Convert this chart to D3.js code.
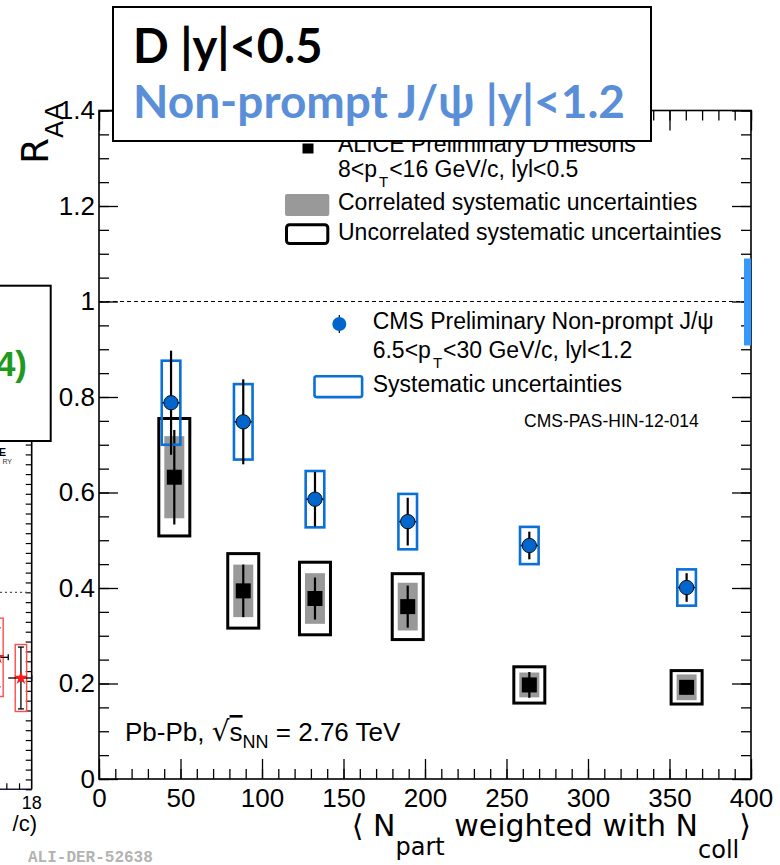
<!DOCTYPE html>
<html>
<head>
<meta charset="utf-8">
<script src="https://cdn.jsdelivr.net/npm/d3@7"></script>
<style>
  body { margin: 0; background: #fff; }
  svg { display: block; }
</style>
</head>
<body>
<svg id="chart" width="780" height="865"></svg>
<script>
// ---- ALICE D mesons, 8<pT<16 GeV/c, |y|<0.5 ----
const aliceNpart  = [46.2, 88.5, 132.5, 189.4, 264.0, 360.5];
const aliceRaa    = [0.632, 0.394, 0.378, 0.361, 0.197, 0.192];
const aliceStat   = [0.099, 0.055, 0.044, 0.044, 0.027, 0.015];
const aliceCorr   = [0.086, 0.055, 0.053, 0.050, 0.026, 0.027];
const aliceUncorr = [0.123, 0.078, 0.076, 0.069, 0.038, 0.035];

// ---- CMS non-prompt J/psi, 6.5<pT<30 GeV/c, |y|<1.2 ----
const cmsNpart = [44.2, 88.5, 132.5, 189.4, 264.0, 360.5];
const cmsRaa   = [0.788, 0.748, 0.586, 0.539, 0.489, 0.401];
const cmsStat  = [0.109, 0.089, 0.057, 0.050, 0.029, 0.030];
const cmsSyst  = [0.088, 0.079, 0.059, 0.058, 0.039, 0.038];

// ---- axis ticks ----
const xTicks = [0, 50, 100, 150, 200, 250, 300, 350, 400];
const yTicks = [0, 0.2, 0.4, 0.6, 0.8, 1, 1.2, 1.4];

// ---- neighbouring RAA vs pT panel, cut off at the left edge ----
const sidePt     = [15.3, 17.15];
const sidePtLo   = [14.0, 16.15];
const sidePtHi   = [16.15, 18.0];
const sideRaa    = [0.670, 0.565];
const sideStat   = [0.150, 0.157];
const sideSyst   = [0.199, 0.170];

const FONT = "'Liberation Sans', Arial, Helvetica, sans-serif";
const TITLE_FONT = "'DejaVu Sans', 'Liberation Sans', sans-serif";
const BOX_FONT = "Lato, 'Open Sans', sans-serif";

const svg = d3.select("#chart");

const frame = { left: 99, right: 751, top: 110.5, bottom: 779 };
const x = d3.scaleLinear().domain([0, 400]).range([frame.left, frame.right]);
const y = d3.scaleLinear().domain([0, 1.4]).range([frame.bottom, frame.top]);

// ================= side panel fragment =================
const side = svg.append("g");
const sx = d3.scaleLinear().domain([15.5, 18]).range([0, 31.7]);
const sy = d3.scaleLinear().domain([0, 1]).range([789.3, 592.3]);

side.append("rect")
  .attr("x", -6).attr("y", 285.7).attr("width", 56.7).attr("height", 155.3)
  .attr("fill", "#fff").attr("stroke", "#000").attr("stroke-width", 2);
side.append("text")
  .attr("x", 27).attr("y", 376).attr("text-anchor", "end")
  .attr("font-family", FONT).attr("font-weight", "bold").attr("font-size", 35)
  .attr("fill", "#1f9a1f").text("4)");
side.append("text")
  .attr("x", 6).attr("y", 455.5).attr("text-anchor", "end")
  .attr("font-family", FONT).attr("font-weight", "bold").attr("font-size", 11)
  .attr("fill", "#000").text("E");
side.append("text")
  .attr("x", 12).attr("y", 464).attr("text-anchor", "end")
  .attr("font-family", FONT).attr("font-size", 7)
  .attr("fill", "#333").text("RY");

// frame edges of the side panel
side.append("line").attr("x1", sx(18)).attr("x2", sx(18)).attr("y1", 442).attr("y2", 789.3)
  .attr("stroke", "#000").attr("stroke-width", 1.6);
side.append("line").attr("x1", -2).attr("x2", sx(18)).attr("y1", 789.3).attr("y2", 789.3)
  .attr("stroke", "#1b1b3a").attr("stroke-width", 1.6);
// y ticks on the right edge of the side panel
side.append("g").attr("transform", `translate(${sx(18)},0)`)
  .call(d3.axisRight(sy).tickValues(d3.range(0, 1.78, 0.05)).tickSize(-6).tickFormat(""))
  .call(g => g.select(".domain").remove())
  .call(g => g.selectAll("line").attr("stroke", "#000").attr("stroke-width", 1.2));
side.append("g").attr("transform", `translate(0,789.3)`)
  .call(d3.axisBottom(sx).tickValues([16, 17]).tickSize(-6).tickFormat(""))
  .call(g => g.select(".domain").remove())
  .call(g => g.selectAll("line").attr("stroke", "#000").attr("stroke-width", 1.2));
side.append("text")
  .attr("x", sx(18)).attr("y", 809).attr("text-anchor", "middle")
  .attr("font-family", FONT).attr("font-size", 18).text("18");
side.append("text")
  .attr("x", 37).attr("y", 831).attr("text-anchor", "end")
  .attr("font-family", FONT).attr("font-size", 22).text("/c)");
// RAA = 1 reference
side.append("line").attr("x1", 0).attr("x2", sx(18)).attr("y1", sy(1)).attr("y2", sy(1))
  .attr("stroke", "#555").attr("stroke-width", 1.2).attr("stroke-dasharray", "2,3");
// systematic boxes
side.selectAll("rect.syst").data(sidePt).join("rect").attr("class", "syst")
  .attr("x", (d) => sx(d) - 5.7).attr("width", 11.4)
  .attr("y", (d, i) => sy(sideRaa[i] + sideSyst[i]))
  .attr("height", (d, i) => sy(sideRaa[i] - sideSyst[i]) - sy(sideRaa[i] + sideSyst[i]))
  .attr("fill", "none").attr("stroke", "#ff4d4d").attr("stroke-width", 1.4);
// stat bars
side.selectAll("line.ystat").data(sidePt).join("line").attr("class", "ystat")
  .attr("x1", (d) => sx(d)).attr("x2", (d) => sx(d))
  .attr("y1", (d, i) => sy(sideRaa[i] + sideStat[i]))
  .attr("y2", (d, i) => sy(sideRaa[i] - sideStat[i]))
  .attr("stroke", "#000").attr("stroke-width", 1.3);
side.selectAll("g.caps").data(sidePt).join("g").attr("class", "caps").each(function (d, i) {
  const g = d3.select(this);
  [sideRaa[i] + sideStat[i], sideRaa[i] - sideStat[i]].forEach(v => {
    g.append("line").attr("x1", sx(d) - 3).attr("x2", sx(d) + 3)
      .attr("y1", sy(v)).attr("y2", sy(v)).attr("stroke", "#000").attr("stroke-width", 1.3);
  });
  g.append("line").attr("x1", sx(sidePtLo[i])).attr("x2", sx(sidePtHi[i]))
    .attr("y1", sy(sideRaa[i])).attr("y2", sy(sideRaa[i]))
    .attr("stroke", "#000").attr("stroke-width", 1.3);
  g.append("line").attr("x1", sx(sidePtHi[i])).attr("x2", sx(sidePtHi[i]))
    .attr("y1", sy(sideRaa[i]) - 3).attr("y2", sy(sideRaa[i]) + 3)
    .attr("stroke", "#000").attr("stroke-width", 1.3);
});
side.selectAll("path.star").data(sidePt).join("path").attr("class", "star")
  .attr("transform", (d, i) => `translate(${sx(d)},${sy(sideRaa[i])})`)
  .attr("d", d3.symbol(d3.symbolStar, 60)).attr("fill", "#ff1a1a");

side.append("text")
  .attr("x", 28).attr("y", 862)
  .attr("font-family", "'Liberation Mono', 'DejaVu Sans Mono', monospace")
  .attr("font-weight", "bold").attr("font-size", 16)
  .attr("fill", "#b3b3b3").text("ALI-DER-52638");

// ================= main frame and axes =================
function styleAxis(g) {
  g.select(".domain").remove();
  g.selectAll("line").attr("stroke", "#000").attr("stroke-width", 1.3);
  g.selectAll("text").attr("font-family", FONT).attr("font-size", 26).attr("fill", "#000");
}
const xMinor = d3.range(0, 401, 10);
const yMinor = d3.range(0, 1.401, 0.05);

// bottom
svg.append("g").attr("transform", `translate(0,${frame.bottom})`)
  .call(d3.axisBottom(x).tickValues(xMinor).tickSize(-10).tickFormat("")).call(styleAxis);
svg.append("g").attr("transform", `translate(0,${frame.bottom})`)
  .call(d3.axisBottom(x).tickValues(xTicks).tickSize(-20).tickPadding(10).tickFormat(d => String(d)))
  .call(styleAxis);
// top
svg.append("g").attr("transform", `translate(0,${frame.top})`)
  .call(d3.axisTop(x).tickValues(xMinor).tickSize(-10).tickFormat("")).call(styleAxis);
svg.append("g").attr("transform", `translate(0,${frame.top})`)
  .call(d3.axisTop(x).tickValues(xTicks).tickSize(-20).tickFormat("")).call(styleAxis);
// left
svg.append("g").attr("transform", `translate(${frame.left},0)`)
  .call(d3.axisLeft(y).tickValues(yMinor).tickSize(-10).tickFormat("")).call(styleAxis);
svg.append("g").attr("transform", `translate(${frame.left},0)`)
  .call(d3.axisLeft(y).tickValues(yTicks).tickSize(-19).tickPadding(4).tickFormat(d => String(d)))
  .call(styleAxis);
// right
svg.append("g").attr("transform", `translate(${frame.right},0)`)
  .call(d3.axisRight(y).tickValues(yMinor).tickSize(-10).tickFormat("")).call(styleAxis);
svg.append("g").attr("transform", `translate(${frame.right},0)`)
  .call(d3.axisRight(y).tickValues(yTicks).tickSize(-19).tickFormat("")).call(styleAxis);

svg.append("rect")
  .attr("x", frame.left).attr("y", frame.top)
  .attr("width", frame.right - frame.left).attr("height", frame.bottom - frame.top)
  .attr("fill", "none").attr("stroke", "#000").attr("stroke-width", 1.6);

// RAA = 1
svg.append("line")
  .attr("x1", x(0)).attr("x2", x(400)).attr("y1", y(1)).attr("y2", y(1))
  .attr("stroke", "#000").attr("stroke-width", 1).attr("stroke-dasharray", "4,3");

// global normalisation uncertainty band at RAA = 1
svg.append("rect")
  .attr("x", frame.right - 7).attr("width", 7)
  .attr("y", y(1.09)).attr("height", y(0.908) - y(1.09))
  .attr("fill", "#3399ff");

// ================= ALICE D mesons =================
const alice = svg.append("g");
alice.selectAll("rect.corr").data(aliceNpart).join("rect").attr("class", "corr")
  .attr("x", d => x(d) - 10).attr("width", 20)
  .attr("y", (d, i) => y(aliceRaa[i] + aliceCorr[i]))
  .attr("height", (d, i) => y(aliceRaa[i] - aliceCorr[i]) - y(aliceRaa[i] + aliceCorr[i]))
  .attr("fill", "#999999");
alice.selectAll("rect.uncorr").data(aliceNpart).join("rect").attr("class", "uncorr")
  .attr("x", d => x(d) - 15.5).attr("width", 31)
  .attr("y", (d, i) => y(aliceRaa[i] + aliceUncorr[i]))
  .attr("height", (d, i) => y(aliceRaa[i] - aliceUncorr[i]) - y(aliceRaa[i] + aliceUncorr[i]))
  .attr("fill", "none").attr("stroke", "#000").attr("stroke-width", 3);
alice.selectAll("line.stat").data(aliceNpart).join("line").attr("class", "stat")
  .attr("x1", d => x(d)).attr("x2", d => x(d))
  .attr("y1", (d, i) => y(aliceRaa[i] + aliceStat[i]))
  .attr("y2", (d, i) => y(aliceRaa[i] - aliceStat[i]))
  .attr("stroke", "#000").attr("stroke-width", 2.2);
alice.selectAll("rect.marker").data(aliceNpart).join("rect").attr("class", "marker")
  .attr("x", d => x(d) - 7.5).attr("width", 15)
  .attr("y", (d, i) => y(aliceRaa[i]) - 7.5).attr("height", 15)
  .attr("fill", "#000");

// ================= CMS non-prompt J/psi =================
const cms = svg.append("g");
cms.selectAll("rect.syst").data(cmsNpart).join("rect").attr("class", "syst")
  .attr("x", d => x(d) - 9.3).attr("width", 18.6)
  .attr("y", (d, i) => y(cmsRaa[i] + cmsSyst[i]))
  .attr("height", (d, i) => y(cmsRaa[i] - cmsSyst[i]) - y(cmsRaa[i] + cmsSyst[i]))
  .attr("fill", "none").attr("stroke", "#0a6fd6").attr("stroke-width", 2.6);
cms.selectAll("line.stat").data(cmsNpart).join("line").attr("class", "stat")
  .attr("x1", d => x(d)).attr("x2", d => x(d))
  .attr("y1", (d, i) => y(cmsRaa[i] + cmsStat[i]))
  .attr("y2", (d, i) => y(cmsRaa[i] - cmsStat[i]))
  .attr("stroke", "#000").attr("stroke-width", 2.2);
cms.selectAll("line.xbar").data(cmsNpart).join("line").attr("class", "xbar")
  .attr("x1", d => x(d) - 8.5).attr("x2", d => x(d) + 8.5)
  .attr("y1", (d, i) => y(cmsRaa[i])).attr("y2", (d, i) => y(cmsRaa[i]))
  .attr("stroke", "#000").attr("stroke-width", 1.5);
cms.selectAll("circle").data(cmsNpart).join("circle")
  .attr("cx", d => x(d)).attr("cy", (d, i) => y(cmsRaa[i])).attr("r", 7.2)
  .attr("fill", "#0066cc").attr("stroke", "#000").attr("stroke-width", 0.9);

// ================= legends =================
const leg = svg.append("g").attr("font-family", FONT).attr("font-size", 23).attr("fill", "#000");
function ptLine(g, xPos, yPos, pre, post) {
  const t = g.append("text").attr("x", xPos).attr("y", yPos);
  t.append("tspan").text(pre);
  t.append("tspan").attr("dy", 10).attr("dx", 2).attr("font-size", 15).text("T");
  t.append("tspan").attr("dy", -10).attr("dx", 1).text(post);
}

leg.append("rect").attr("x", 302.5).attr("y", 143.5).attr("width", 11).attr("height", 10).attr("fill", "#000");
leg.append("text").attr("x", 338).attr("y", 152).text("ALICE Preliminary D mesons");
ptLine(leg, 338, 176.7, "8<p", "<16 GeV/c, lyl<0.5");
leg.append("rect").attr("x", 285).attr("y", 194).attr("width", 44.3).attr("height", 22).attr("rx", 2)
  .attr("fill", "#999999");
leg.append("text").attr("x", 338).attr("y", 210).text("Correlated systematic uncertainties");
leg.append("rect").attr("x", 286.5).attr("y", 224.8).attr("width", 41.3).attr("height", 18.7).attr("rx", 3)
  .attr("fill", "none").attr("stroke", "#000").attr("stroke-width", 3);
leg.append("text").attr("x", 338).attr("y", 240).text("Uncorrelated systematic uncertainties");

leg.append("line").attr("x1", 339.3).attr("x2", 339.3).attr("y1", 315).attr("y2", 333)
  .attr("stroke", "#000").attr("stroke-width", 1.2);
leg.append("circle").attr("cx", 339.3).attr("cy", 324).attr("r", 7)
  .attr("fill", "#0066cc").attr("stroke", "none");
leg.append("text").attr("x", 372.7).attr("y", 329.3).text("CMS Preliminary Non-prompt J/ψ");
ptLine(leg, 372.7, 358.3, "6.5<p", "<30 GeV/c, lyl<1.2");
leg.append("rect").attr("x", 314.5).attr("y", 376.3).attr("width", 47.6).attr("height", 20.8).attr("rx", 2)
  .attr("fill", "none").attr("stroke", "#0a6fd6").attr("stroke-width", 2.6);
leg.append("text").attr("x", 372.7).attr("y", 391.7).text("Systematic uncertainties");
leg.append("text").attr("x", 524).attr("y", 427.3).attr("font-size", 17.5).text("CMS-PAS-HIN-12-014");

// collision system label
const sys = svg.append("text").attr("x", 125).attr("y", 741)
  .attr("font-family", FONT).attr("font-size", 26).attr("fill", "#000");
sys.append("tspan").text("Pb-Pb, ");
sys.append("tspan").attr("font-family", "'DejaVu Sans', sans-serif").attr("font-size", 28).text("√");
sys.append("tspan").attr("text-decoration", "overline").text("s");
sys.append("tspan").attr("dy", 7).attr("font-size", 18).text("NN");
sys.append("tspan").attr("dy", -7).text(" = 2.76 TeV");

// ================= axis titles =================
const xt = svg.append("text")
  .attr("x", frame.right).attr("y", 836).attr("text-anchor", "end")
  .attr("font-family", TITLE_FONT).attr("font-size", 30).attr("fill", "#000");
xt.append("tspan").attr("font-size", 30).text("⟨");
xt.append("tspan").text(" N");
xt.append("tspan").attr("dy", 19).attr("font-size", 24).text("part");
xt.append("tspan").attr("dy", -19).text(" weighted with N");
xt.append("tspan").attr("dy", 22).attr("font-size", 24).text("coll");
xt.append("tspan").attr("dy", -22).attr("font-size", 30).text("⟩");

const yt = svg.append("text")
  .attr("transform", "translate(48,103) rotate(-90)")
  .attr("text-anchor", "end")
  .attr("font-family", TITLE_FONT).attr("font-size", 37).attr("fill", "#000");
yt.append("tspan").text("R");
yt.append("tspan").attr("dy", 15).attr("font-size", 25).text("AA");

// ================= header box =================
const head = svg.append("g");
head.append("rect")
  .attr("x", 113).attr("y", 7).attr("width", 538).attr("height", 134)
  .attr("fill", "#fff").attr("stroke", "#000").attr("stroke-width", 2);
head.append("text")
  .attr("x", 133).attr("y", 63)
  .attr("font-family", BOX_FONT).attr("font-weight", "bold").attr("font-size", 47)
  .attr("fill", "#000").text("D |y|<0.5");
head.append("text")
  .attr("x", 133).attr("y", 118)
  .attr("font-family", BOX_FONT).attr("font-weight", "bold").attr("font-size", 46)
  .attr("fill", "#5a8fd8").text("Non-prompt J/ψ |y|<1.2");
</script>
</body>
</html>
